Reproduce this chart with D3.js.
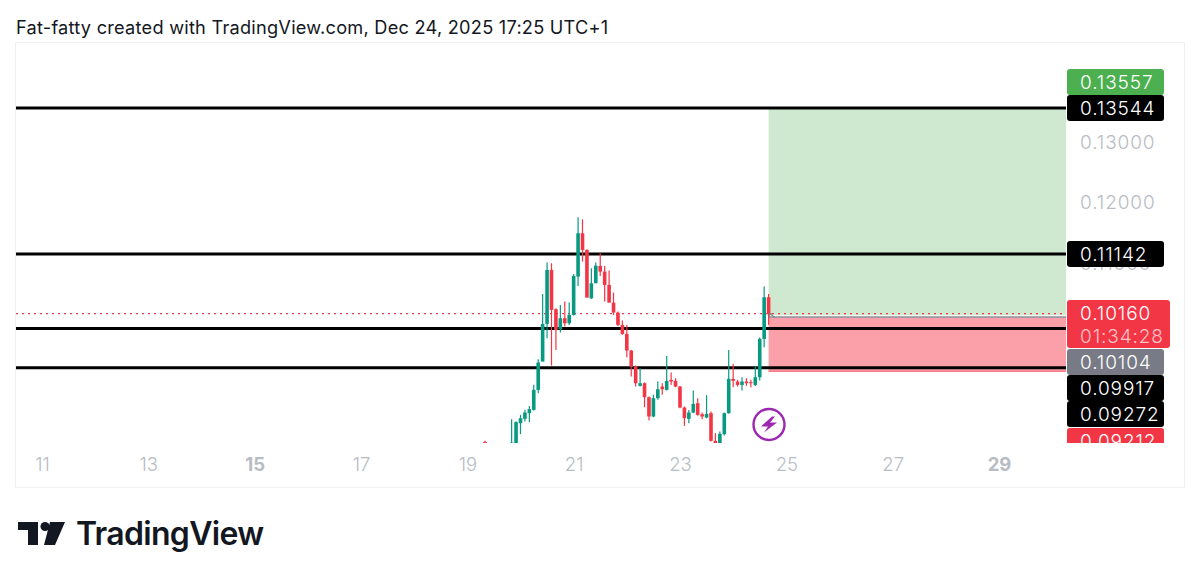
<!DOCTYPE html>
<html><head><meta charset="utf-8">
<script src="https://cdn.jsdelivr.net/npm/d3@7"></script>
<style>html,body{margin:0;background:#fff}svg{display:block}text{font-family:Inter,"Noto Sans",sans-serif}</style>
</head><body><svg id="c" width="1200" height="581"></svg>
<script>
const title = "Fat-fatty created with TradingView.com, Dec 24, 2025 17:25 UTC+1";
const firstCandleDay = 19.833;   // 2h candles, day of December
const candleStepDays = 1/12;
const opens = [.08050,.07960,.07950,.07960,.07970,.07980,
 .08029,.08029,.08359,.08431,.08524,.08579,.08907,.09373,.09992,.10880,.10234,.09905,.10086,.10003,.10140,.10771,.11483,.11209,.10414,.10661,.10946,.10853,.10634,.10343,.10179,.09976,.09828,.09554,.09291,
 .08973,.09017,.08787,.08469,.08770,.08962,.08907,.09072,.09055,.08962,.08617,.08430,.08535,.08688,.08507,.08452,.08524,.08069,.08030,.08178,.08524,.09088,.09044,.08989,.09044,.09033,.08989,.09115,.09746,.10431];
const highs = [.08070,.07990,.07980,.07990,.07990,.08020,
 .08423,.08390,.08496,.08579,.08644,.08990,.09412,.10486,.11001,.10990,.10250,.10305,.10360,.10343,.10814,.11746,.11713,.11220,.10908,.11001,.11154,.10946,.10869,.10508,.10195,.10047,.09976,.09565,.09307,
 .09263,.09030,.08800,.08825,.09044,.09017,.09466,.09192,.09099,.08970,.08633,.08578,.08896,.08770,.08535,.08820,.08551,.08195,.08222,.08535,.09565,.09335,.09072,.09115,.09099,.09072,.09302,.09768,.10606,.10485];
const lows = [.08020,.07940,.07930,.07940,.07950,.07970,
 .08000,.08000,.08179,.08387,.08376,.08568,.08853,.09373,.09757,.09307,.09565,.09850,.09949,.09976,.10130,.10617,.11017,.10425,.10403,.10661,.10782,.10360,.10343,.10140,.09960,.09812,.09444,.09127,.08962,
 .08962,.08622,.08403,.08458,.08743,.08825,.08896,.08989,.08951,.08606,.08315,.08359,.08524,.08480,.08425,.08441,.08058,.08020,.08020,.08156,.08513,.08951,.08962,.08896,.08973,.08951,.08973,.09061,.09609,.09976];
const closes = [.08030,.07980,.07960,.07970,.07980,.08010,
 .08040,.08376,.08441,.08535,.08590,.08907,.09357,.09992,.10880,.10223,.09894,.10086,.10003,.10140,.10782,.11483,.11209,.10425,.10661,.10951,.10853,.10634,.10343,.10179,.09976,.09828,.09554,.09291,.09017,
 .09017,.08787,.08469,.08770,.08918,.08918,.09055,.09044,.08962,.08617,.08441,.08535,.08677,.08496,.08469,.08513,.08069,.08030,.08184,.08524,.09088,.09055,.08989,.09044,.09017,.09017,.09115,.09746,.10431,.10160];

const levelPrices = [.13544,.11142,.09917,.09272];
const lastPrice = .10160, entryPrice = .10104, targetPrice = .13557, stopPrice = .09212;
const positionStartDay = 24.667, positionEndDay = 30.27;
const priceTicks = [.13,.12,.11];
const dayTicks = [11,13,15,17,19,21,23,25,27,29];
const boldDays = [15,29];
const labelTexts = ["0.13557","0.13544","0.11142","0.10160","0.10104","0.09917","0.09272","0.09212"];
const labelKinds = ["target","level","level","last","entry","level","level","stop"];
const countdown = "01:34:28";

const svg = d3.select("#c");
const P = {l:16,r:1066,t:43,b:443};
const x = d3.scaleLinear().domain([11,29]).range([42,999]);
const y = d3.scaleLinear().domain([.13544,.09272]).range([108,367.7]);

svg.append("rect").attr("x",15.5).attr("y",42.5).attr("width",1169).attr("height",445)
  .attr("fill","#fff").attr("stroke","#f0f1f3");
svg.append("text").attr("x",16).attr("y",34).attr("font-size",18.2).attr("letter-spacing",.24).attr("fill","#131722").text(title);

svg.append("defs").append("clipPath").attr("id","plot").append("rect")
  .attr("x",P.l).attr("y",P.t).attr("width",P.r-P.l).attr("height",P.b-P.t);
const plot = svg.append("g").attr("clip-path","url(#plot)");

// position tool
const xa = x(positionStartDay), xb = x(positionEndDay);
plot.append("rect").attr("x",xa).attr("width",xb-xa).attr("y",y(targetPrice)).attr("height",y(entryPrice)-y(targetPrice)-2).attr("fill","#cfe8d0");
plot.append("rect").attr("x",xa).attr("width",xb-xa).attr("y",y(entryPrice)).attr("height",y(stopPrice)-y(entryPrice)).attr("fill","#fb9fa8");
plot.append("line").attr("x1",xa).attr("x2",xb).attr("y1",y(entryPrice)).attr("y2",y(entryPrice)).attr("stroke","#8a8f98").attr("stroke-width",1.5);
plot.append("line").attr("x1",xa).attr("x2",xb).attr("y1",y(stopPrice)).attr("y2",y(stopPrice)).attr("stroke","#f77c88").attr("stroke-width",1.5);

// last price line
plot.append("line").attr("x1",P.l).attr("x2",P.r).attr("y1",y(lastPrice)).attr("y2",y(lastPrice))
  .attr("stroke","#f23645").attr("stroke-width",1.3).attr("stroke-dasharray","2 4");

// horizontal levels
plot.selectAll(".lvl").data(levelPrices).join("line").attr("class","lvl")
  .attr("x1",P.l).attr("x2",P.r).attr("y1",d=>y(d)).attr("y2",d=>y(d))
  .attr("stroke","#000").attr("stroke-width",3);

// candles
const candles = opens.map((o,i)=>({d:firstCandleDay+(i-6)*candleStepDays,o,h:highs[i],l:lows[i],c:closes[i]}));
const col = d=>d.c>=d.o?"#089981":"#f23645";
const cg = plot.selectAll(".cnd").data(candles).join("g").attr("class","cnd");
cg.append("line").attr("x1",d=>x(d.d)).attr("x2",d=>x(d.d)).attr("y1",d=>y(d.h)).attr("y2",d=>y(d.l))
  .attr("stroke",col).attr("stroke-width",1.2);
cg.append("rect").attr("x",d=>x(d.d)-1.8).attr("width",3.6)
  .attr("y",d=>y(Math.max(d.o,d.c))).attr("height",d=>Math.max(1,Math.abs(y(d.o)-y(d.c)))).attr("fill",col);

// small grey arrow at entry
plot.append("path").attr("d",d3.line()([[x(positionStartDay)+1,y(lastPrice)],[x(positionStartDay)+6,y(entryPrice)]]))
  .attr("stroke","#7b8089").attr("stroke-width",1.2).attr("fill","none");
plot.append("path").attr("d",d3.line()([[x(positionStartDay)+1,y(lastPrice)+3],[x(positionStartDay)+1,y(lastPrice)],[x(positionStartDay)+4,y(lastPrice)]]))
  .attr("stroke","#7b8089").attr("stroke-width",1).attr("fill","none");

// lightning marker
const mk = svg.append("g").attr("transform","translate(769,424.5)");
mk.append("circle").attr("r",15.5).attr("fill","#fff").attr("stroke","#9c27b0").attr("stroke-width",2.4);
mk.append("path").attr("d","M3-8-8 2 -1 2 -5 8 8-2 1-2 6-8Z").attr("fill","#9c27b0");

// axes
const tickCol = "#b8bcc4";
const ya = svg.append("g").attr("transform","translate(1080,1)")
  .call(d3.axisRight(y).tickValues(priceTicks).tickFormat(d3.format(".5f")).tickSize(0).tickPadding(0));
ya.select(".domain").remove();
ya.selectAll("text").attr("font-size",19).attr("font-weight",300).attr("letter-spacing",.9).attr("fill",tickCol).style("font-family","Inter");
const xaxis = svg.append("g").attr("transform","translate(0,458)")
  .call(d3.axisBottom(x).tickValues(dayTicks).tickFormat(d3.format("d")).tickSize(0).tickPadding(0));
xaxis.select(".domain").remove();
xaxis.selectAll("text").attr("font-size",18.5).attr("font-weight",d=>boldDays.includes(d)?700:300).attr("fill",tickCol).style("font-family","Inter");

// price labels (stacked by the chart's own collision rule, so they sit off their prices)
const labelBoxTops = [69,95,241,300,349,375,401,428];
const labelBoxHeights = [26,26,26,48,26,26,26,26];
const kindFill = {target:"#4caf50",level:"#000",last:"#f23645",entry:"#787b86",stop:"#f23645"};
svg.append("defs").append("clipPath").attr("id","scale").append("rect").attr("x",1060).attr("y",P.t).attr("width",130).attr("height",P.b-P.t);
const lg = svg.append("g").attr("clip-path","url(#scale)");
labelTexts.forEach((t,i)=>{
  const k = labelKinds[i], top = labelBoxTops[i], h = labelBoxHeights[i];
  lg.append("rect").attr("x",1067).attr("y",top).attr("width",k==="last"?103:97).attr("height",h).attr("rx",3).attr("fill",kindFill[k]);
  lg.append("text").attr("x",1080).attr("y",top+20).attr("font-size",19).attr("font-weight",300).attr("letter-spacing",.9).attr("fill","#fff").text(t);
  if(k==="last") lg.append("text").attr("x",1080).attr("y",top+42.5).attr("font-size",19).attr("font-weight",300).attr("letter-spacing",.9).attr("fill","#ffc2c7").text(countdown);
});

// logo
const logo = svg.append("g").attr("fill","#131722");
logo.append("path").attr("d","M18 522H38V545H28V530H18ZM50 522H65L55 545H44Z");
logo.append("circle").attr("cx",45).attr("cy",526.5).attr("r",4.5);
logo.append("text").attr("x",76).attr("y",545).attr("font-size",32).attr("font-weight",600).attr("letter-spacing",-.7).text("TradingView");
</script></body></html>
